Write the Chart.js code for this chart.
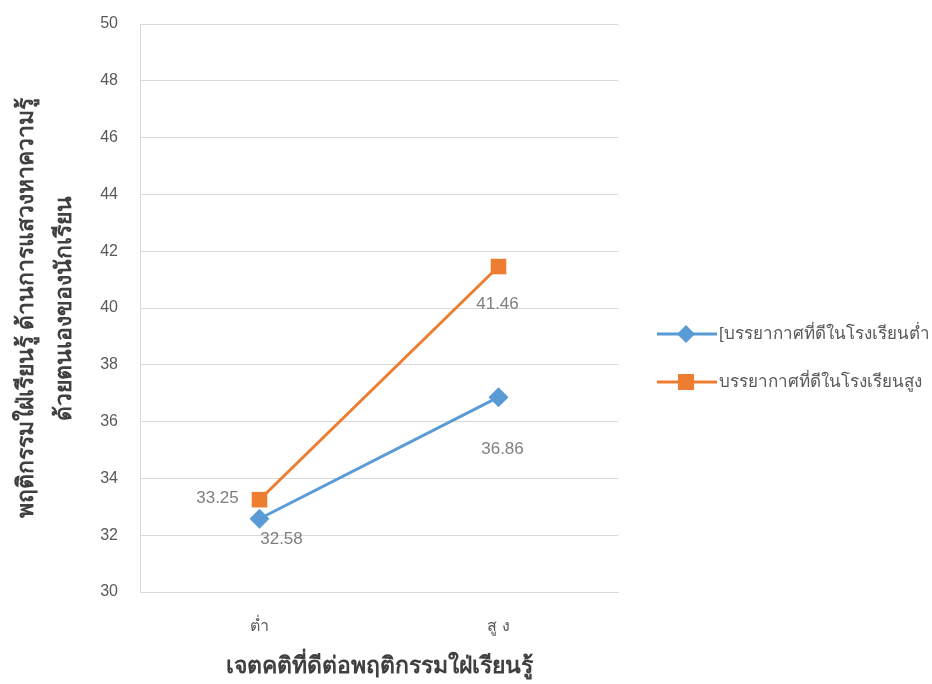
<!DOCTYPE html>
<html>
<head>
<meta charset="utf-8">
<script src="https://cdn.jsdelivr.net/npm/chart.js@4"></script>
<style>
  html, body { margin: 0; padding: 0; background: #fff; }
  #wrap { width: 932px; height: 684px; }
</style>
</head>
<body>
<div id="wrap"><canvas id="attChart" width="932" height="684"></canvas></div>
<script>
const categories = ['ต่ำ', 'สู ง'];
const lowClimate = [32.58, 36.86];
const highClimate = [33.25, 41.46];
const seriesNames = ['[บรรยากาศที่ดีในโรงเรียนต่ำ', 'บรรยากาศที่ดีในโรงเรียนสูง'];
const yTitle = ['พฤติกรรมใฝ่เรียนรู้ ด้านการแสวงหาความรู้', 'ด้วยตนเองของนักเรียน'];
const xTitle = 'เจตคติที่ดีต่อพฤติกรรมใฝ่เรียนรู้';

const FONT = 'Arial, "Liberation Sans", Tahoma, sans-serif';
const BLUE = '#5B9BD5';
const ORANGE = '#ED7D31';
const GREY = '#595959';

// where each value label sits relative to its point (Excel moved them by hand)
const labelOffsets = [
    [[22, 21], [4, 52]],
    [[-42, -1], [-1, 38]]
];

const valueLabels = {
    id: 'valueLabels',
    afterDatasetsDraw(chart) {
        const c = chart.ctx;
        c.save();
        c.font = '17px ' + FONT;
        c.fillStyle = '#7f7f7f';
        c.textAlign = 'center';
        c.textBaseline = 'middle';
        chart.data.datasets.forEach((ds, i) => {
            chart.getDatasetMeta(i).data.forEach((pt, j) => {
                const off = labelOffsets[i][j];
                c.fillText(ds.data[j].toFixed(2), pt.x + off[0], pt.y + off[1]);
            });
        });
        c.restore();
    }
};

const sideLegend = {
    id: 'sideLegend',
    afterDraw(chart) {
        const c = chart.ctx;
        const x0 = 657, rows = [334, 382];
        c.save();
        chart.data.datasets.forEach((ds, i) => {
            const y = rows[i];
            c.strokeStyle = ds.borderColor;
            c.lineWidth = 3;
            c.beginPath();
            c.moveTo(x0, y);
            c.lineTo(x0 + 60, y);
            c.stroke();
            c.fillStyle = ds.backgroundColor;
            const mx = x0 + 29;
            if (ds.pointStyle === 'rect') {
                c.fillRect(mx - 8, y - 8, 16, 16);
            } else {
                c.beginPath();
                c.moveTo(mx, y - 9);
                c.lineTo(mx + 9, y);
                c.lineTo(mx, y + 9);
                c.lineTo(mx - 9, y);
                c.closePath();
                c.fill();
            }
            c.font = '17px ' + FONT;
            c.fillStyle = GREY;
            c.textAlign = 'left';
            c.textBaseline = 'middle';
            c.fillText(ds.label, x0 + 62, y);
        });
        c.restore();
    }
};

const ctx = document.getElementById('attChart').getContext('2d');
const attChart = new Chart(ctx, {
    type: 'line',
    data: {
        labels: categories,
        datasets: [
            {
                label: seriesNames[0],
                data: lowClimate,
                borderColor: BLUE,
                backgroundColor: BLUE,
                borderWidth: 3,
                pointStyle: 'rectRot',
                pointRadius: 10,
                pointHoverRadius: 10,
                pointBorderWidth: 0
            },
            {
                label: seriesNames[1],
                data: highClimate,
                borderColor: ORANGE,
                backgroundColor: ORANGE,
                borderWidth: 3,
                pointStyle: 'rect',
                pointRadius: 11,
                pointHoverRadius: 11,
                pointBorderWidth: 0
            }
        ]
    },
    options: {
        responsive: false,
        animation: false,
        layout: { autoPadding: false, padding: { top: 0, right: 314, bottom: 0, left: 0 } },
        scales: {
            x: {
                offset: true,
                grid: { display: false, drawTicks: false },
                border: { display: true, color: '#d9d9d9' },
                ticks: { color: GREY, font: { size: 16, family: FONT }, padding: 25 },
                title: {
                    display: true,
                    text: xTitle,
                    color: '#404040',
                    font: { size: 23, weight: 'bold', family: FONT },
                    padding: { top: 8 }
                },
                afterFit(scale) { scale.height = 92; }
            },
            y: {
                min: 30,
                max: 50,
                ticks: { stepSize: 2, color: GREY, font: { size: 16, family: FONT }, padding: 22 },
                grid: { color: '#d9d9d9', drawTicks: false },
                border: { display: true, color: '#d9d9d9' },
                title: {
                    display: true,
                    text: yTitle,
                    color: '#404040',
                    font: { size: 23, weight: 'bold', family: FONT, lineHeight: 1.65 },
                    padding: { top: 8, bottom: 0 }
                },
                afterFit(scale) {
                    scale.width = 140;
                    scale.paddingTop = 24;
                }
            }
        },
        plugins: {
            legend: { display: false },
            tooltip: { enabled: false }
        }
    },
    plugins: [valueLabels, sideLegend]
});
</script>
</body>
</html>
